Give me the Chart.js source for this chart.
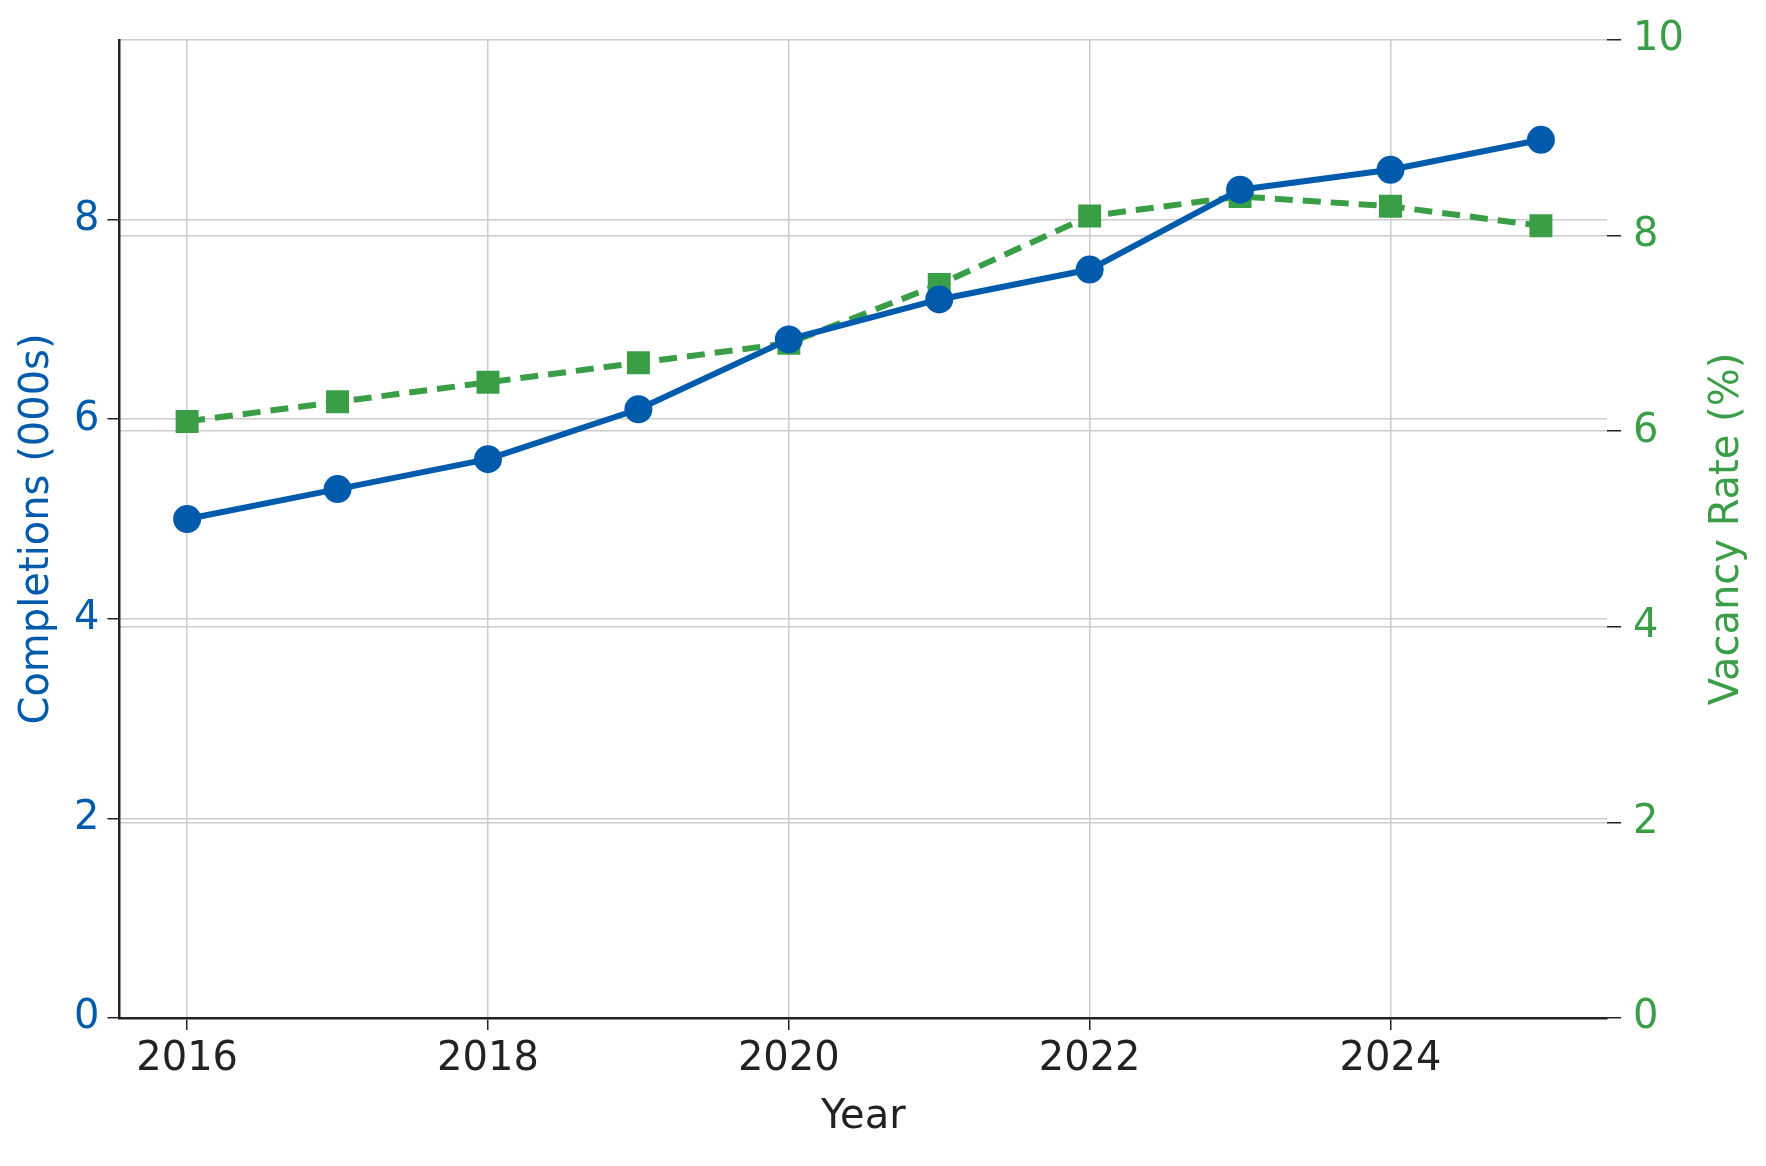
<!DOCTYPE html>
<html lang="en">
<head>
  <meta charset="UTF-8" />
  <title>Completions and Vacancy Rate</title>
  <script src="https://cdn.jsdelivr.net/npm/chart.js"></script>
  <style>
    body { margin: 0; background: #fff; }
    #wrap { width: 1766px; height: 1166px; }
  </style>
</head>
<body>
  <div id="wrap"><canvas id="chart"></canvas></div>
  <script>
    const years = [2016, 2017, 2018, 2019, 2020, 2021, 2022, 2023, 2024, 2025];
    const completions = [5.0, 5.3, 5.6, 6.1, 6.8, 7.2, 7.5, 8.3, 8.5, 8.8];
    const vacancy = [6.1, 6.3, 6.5, 6.7, 6.9, 7.5, 8.2, 8.4, 8.3, 8.1];
    const yearTicks = [2016, 2018, 2020, 2022, 2024];
    const leftTicks = [0, 2, 4, 6, 8];

    const blue = '#005bac', green = '#3a9e47';
    const font = { family: 'DejaVu Sans', size: 40 };
    const gridDash = { color: '#cccccc', lineWidth: 1.5 };

    // right axis title drawn bottom-to-top like the reference
    const rightTitle = {
      id: 'rightTitle',
      afterDraw(chart) {
        const { ctx, chartArea } = chart;
        ctx.save();
        ctx.translate(chart.width - 38, (chartArea.top + chartArea.bottom) / 2);
        ctx.rotate(-Math.PI / 2);
        ctx.font = "40px 'DejaVu Sans'";
        ctx.fillStyle = green;
        ctx.textAlign = 'center';
        ctx.textBaseline = 'middle';
        ctx.fillText('Vacancy Rate (%)', 0, 0);
        ctx.restore();
      }
    };

    new Chart(document.getElementById('chart'), {
      type: 'line',
      data: {
        datasets: [
          {
            label: 'Completions',
            data: years.map((y, i) => ({ x: y, y: completions[i] })),
            borderColor: blue, backgroundColor: blue,
            borderWidth: 6, pointRadius: 11, pointStyle: 'circle',
            yAxisID: 'y'
          },
          {
            label: 'Vacancy Rate',
            data: years.map((y, i) => ({ x: y, y: vacancy[i] })),
            borderColor: green, backgroundColor: green,
            borderWidth: 6, borderDash: [18, 10], pointRadius: 12, pointStyle: 'rect',
            yAxisID: 'y1'
          }
        ]
      },
      options: {
        responsive: true,
        maintainAspectRatio: false,
        animation: false,
        layout: { padding: { top: 40, right: 70, bottom: 20, left: 10 } },
        plugins: { legend: { display: false }, tooltip: { enabled: false } },
        scales: {
          x: {
            type: 'linear', min: 2015.55, max: 2025.44,
            afterBuildTicks: ax => { ax.ticks = yearTicks.map(v => ({ value: v })); },
            ticks: { color: '#222', font, callback: v => String(v), padding: 6, maxRotation: 0 },
            grid: { ...gridDash, tickLength: 12, tickColor: '#222' },
            border: { color: '#222', width: 2.5 },
            title: { display: true, text: 'Year', color: '#222', font }
          },
          y: {
            position: 'left', min: 0, max: 9.8,
            afterBuildTicks: ax => { ax.ticks = leftTicks.map(v => ({ value: v })); },
            ticks: { color: blue, font, padding: 8 },
            grid: { ...gridDash, tickLength: 12, tickColor: '#222' },
            border: { color: '#222', width: 2.5 },
            title: { display: true, text: 'Completions (000s)', color: blue, font }
          },
          y1: {
            position: 'right', min: 0, max: 10,
            ticks: { stepSize: 2, color: green, font, padding: 12 },
            grid: { ...gridDash, tickLength: 14, tickColor: '#222', drawOnChartArea: true },
            border: { display: false }
          }
        }
      },
      plugins: [rightTitle]
    });
  </script>
</body>
</html>
